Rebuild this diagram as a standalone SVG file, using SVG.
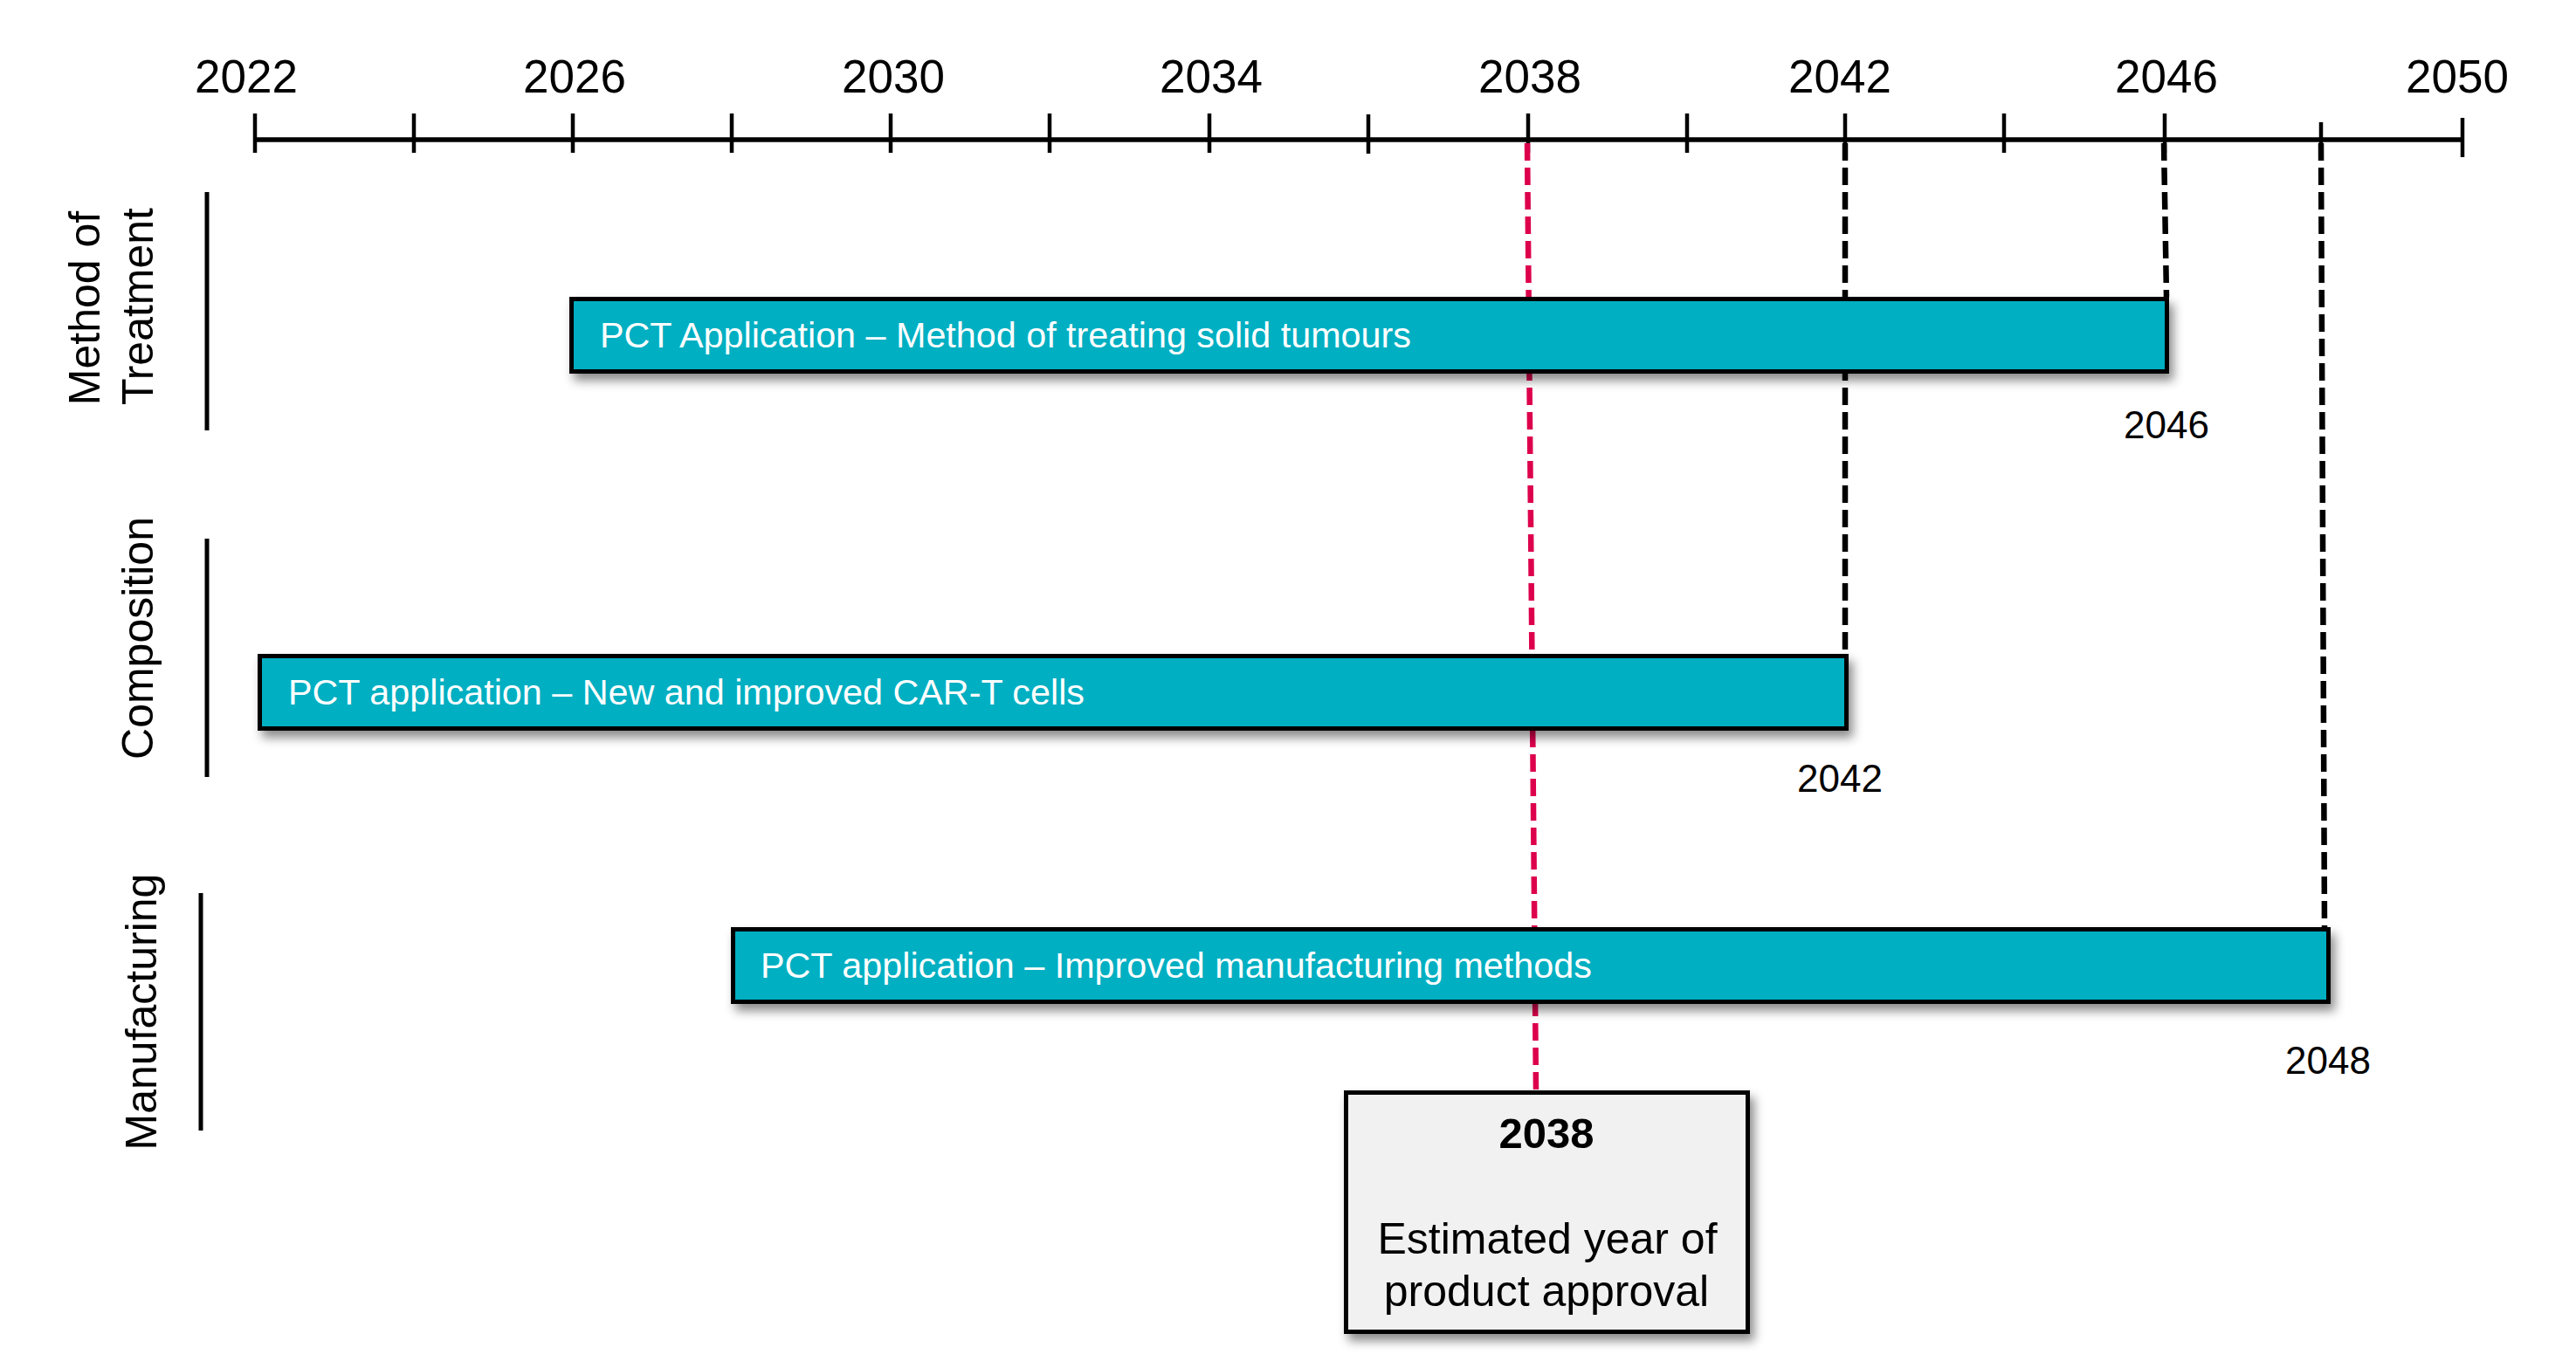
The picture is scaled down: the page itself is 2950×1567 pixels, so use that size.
<svg xmlns="http://www.w3.org/2000/svg" width="2950" height="1567" viewBox="0 0 2950 1567">
<style>
text{font-family:"Liberation Sans",Arial,sans-serif;fill:#000}
.yr{font-size:53px;text-anchor:middle}
.end{font-size:44px;text-anchor:middle}
.cat{font-size:50px;text-anchor:middle}
.bar{fill:#00AFC2;stroke:#000;stroke-width:5}
.bt{font-size:41.3px;fill:#fff}
.tick{stroke:#000;stroke-width:4.5}
.sep{stroke:#000;stroke-width:5}
.dash{fill:none;stroke-width:6.5;stroke-dasharray:20 8}
</style>
<defs>
<filter id="sh" x="-5%" y="-30%" width="115%" height="180%">
<feDropShadow dx="5" dy="8" stdDeviation="6" flood-color="#000" flood-opacity="0.45"/>
</filter>
</defs>
<g id="axis">
<line x1="292" y1="160" x2="2820" y2="160" stroke="#000" stroke-width="5.5"/>
<line class="tick" x1="292" y1="130" x2="292" y2="175"/>
<line class="tick" x1="474" y1="130" x2="474" y2="175"/>
<line class="tick" x1="656" y1="130" x2="656" y2="175"/>
<line class="tick" x1="838" y1="130" x2="838" y2="175"/>
<line class="tick" x1="1020" y1="130" x2="1020" y2="175"/>
<line class="tick" x1="1202" y1="130" x2="1202" y2="175"/>
<line class="tick" x1="1385" y1="130" x2="1385" y2="175"/>
<line class="tick" x1="1567" y1="131" x2="1567" y2="176"/>
<line class="tick" x1="1750" y1="130" x2="1750" y2="175"/>
<line class="tick" x1="1932" y1="130" x2="1932" y2="175"/>
<line class="tick" x1="2113" y1="130" x2="2113" y2="175"/>
<line class="tick" x1="2295" y1="130" x2="2295" y2="175"/>
<line class="tick" x1="2479" y1="130" x2="2479" y2="175"/>
<line class="tick" x1="2658" y1="140" x2="2658" y2="175"/>
<line class="tick" x1="2820" y1="135" x2="2820" y2="180"/>
<text class="yr" x="282" y="106">2022</text>
<text class="yr" x="658" y="106">2026</text>
<text class="yr" x="1023" y="106">2030</text>
<text class="yr" x="1387" y="106">2034</text>
<text class="yr" x="1752" y="106">2038</text>
<text class="yr" x="2107" y="106">2042</text>
<text class="yr" x="2481" y="106">2046</text>
<text class="yr" x="2814" y="106">2050</text>
</g>
<g id="connectors">
<line class="dash" x1="1749" y1="164" x2="1759" y2="1249" stroke="#DD004C"/>
<line class="dash" x1="2113" y1="164" x2="2113" y2="750" stroke="#000"/>
<line class="dash" x1="2478" y1="164" x2="2481" y2="340" stroke="#000"/>
<line class="dash" x1="2658" y1="164" x2="2662" y2="1062" stroke="#000"/>
</g>
<g id="cat-method">
<text class="cat" transform="translate(114,353) rotate(-90)">Method of</text>
<text class="cat" transform="translate(175,351) rotate(-90)">Treatment</text>
<line class="sep" x1="237" y1="220" x2="237" y2="493"/>
</g>
<g id="cat-composition">
<text class="cat" transform="translate(175,731) rotate(-90)">Composition</text>
<line class="sep" x1="237" y1="617" x2="237" y2="890"/>
</g>
<g id="cat-manufacturing">
<text class="cat" transform="translate(179,1159) rotate(-90)">Manufacturing</text>
<line class="sep" x1="230" y1="1023" x2="230" y2="1295"/>
</g>
<g id="bar-method">
<rect class="bar" x="654.5" y="342.5" width="1827" height="83" filter="url(#sh)"/>
<text class="bt" x="687" y="398">PCT Application – Method of treating solid tumours</text>
<text class="end" x="2481" y="502">2046</text>
</g>
<g id="bar-composition">
<rect class="bar" x="297.5" y="751.5" width="1817" height="83" filter="url(#sh)"/>
<text class="bt" x="330" y="807">PCT application – New and improved CAR-T cells</text>
<text class="end" x="2107" y="907">2042</text>
</g>
<g id="bar-manufacturing">
<rect class="bar" x="839.5" y="1064.5" width="1827" height="83" filter="url(#sh)"/>
<text class="bt" x="871" y="1120">PCT application – Improved manufacturing methods</text>
<text class="end" x="2666" y="1230">2048</text>
</g>
<g id="approval-box">
<rect x="1541.5" y="1251.5" width="460" height="274" fill="#F0F1F0" stroke="#000" stroke-width="5" filter="url(#sh)"/>
<text x="1771" y="1315" font-size="49" font-weight="bold" text-anchor="middle">2038</text>
<text x="1772" y="1436" font-size="50" text-anchor="middle">Estimated year of</text>
<text x="1771" y="1496" font-size="50" text-anchor="middle">product approval</text>
</g>
</svg>
